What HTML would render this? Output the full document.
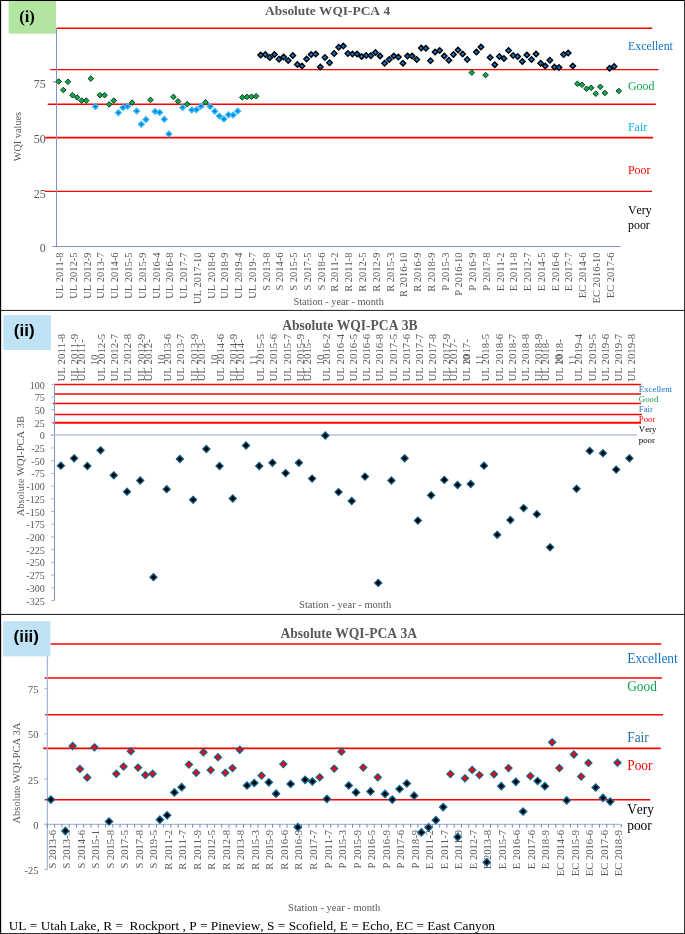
<!DOCTYPE html>
<html lang="en"><head><meta charset="utf-8"><title>WQI-PCA charts</title>
<style>html,body{margin:0;padding:0;background:#fff}svg{display:block;will-change:transform}text{font-kerning:none}</style></head>
<body>
<svg width="685" height="934" viewBox="0 0 685 934">
<style>.s{font-family:"Liberation Serif","Times New Roman",serif}.a{font-family:"Liberation Sans",Arial,sans-serif}</style>
<rect x="0" y="0" width="685" height="934" fill="#fff"/>
<line x1="56.40" y1="28.20" x2="652.30" y2="28.20" stroke="#ff0000" stroke-width="1.4"/>
<line x1="50.30" y1="69.60" x2="658.40" y2="69.60" stroke="#ff0000" stroke-width="1.4"/>
<line x1="47.70" y1="104.30" x2="655.80" y2="104.30" stroke="#ff0000" stroke-width="1.4"/>
<line x1="45.20" y1="137.60" x2="653.10" y2="137.60" stroke="#ff0000" stroke-width="1.9"/>
<line x1="44.70" y1="191.40" x2="652.00" y2="191.40" stroke="#ff0000" stroke-width="1.4"/>
<line x1="56.50" y1="28.00" x2="56.50" y2="246.50" stroke="#8093c0" stroke-width="1"/>
<line x1="52.50" y1="246.50" x2="620.50" y2="246.50" stroke="#8093c0" stroke-width="1"/>
<line x1="52.50" y1="82.00" x2="56.50" y2="82.00" stroke="#8093c0" stroke-width="1"/>
<text class="s" x="45.70" y="88.00" font-size="12" text-anchor="end" fill="#595959">75</text>
<text class="s" x="45.70" y="143.20" font-size="12" text-anchor="end" fill="#595959">50</text>
<text class="s" x="45.70" y="197.60" font-size="12" text-anchor="end" fill="#595959">25</text>
<text class="s" x="45.70" y="252.20" font-size="12" text-anchor="end" fill="#595959">0</text>
<text class="s" x="21.00" y="136.60" font-size="10.3" text-anchor="middle" fill="#595959" transform="rotate(-90 21.00 136.60)">WQI values</text>
<text class="s" x="327.60" y="14.60" font-size="13.4" font-weight="bold" text-anchor="middle" fill="#595959">Absolute WQI-PCA 4</text>
<text class="s" x="338.70" y="304.50" font-size="10.3" text-anchor="middle" fill="#595959">Station - year - month</text>
<path d="M58.70 78.70L61.50 81.50L58.70 84.30L55.90 81.50Z" fill="#0fa94d" stroke="#0d3a1e" stroke-width="1.0"/>
<path d="M63.29 87.20L66.09 90.00L63.29 92.80L60.49 90.00Z" fill="#0fa94d" stroke="#0d3a1e" stroke-width="1.0"/>
<path d="M67.88 79.00L70.68 81.80L67.88 84.60L65.08 81.80Z" fill="#0fa94d" stroke="#0d3a1e" stroke-width="1.0"/>
<path d="M72.47 92.40L75.27 95.20L72.47 98.00L69.67 95.20Z" fill="#0fa94d" stroke="#0d3a1e" stroke-width="1.0"/>
<path d="M77.06 94.60L79.86 97.40L77.06 100.20L74.26 97.40Z" fill="#0fa94d" stroke="#0d3a1e" stroke-width="1.0"/>
<path d="M81.65 97.80L84.45 100.60L81.65 103.40L78.85 100.60Z" fill="#0fa94d" stroke="#0d3a1e" stroke-width="1.0"/>
<path d="M86.24 97.80L89.04 100.60L86.24 103.40L83.44 100.60Z" fill="#0fa94d" stroke="#0d3a1e" stroke-width="1.0"/>
<path d="M90.83 75.80L93.63 78.60L90.83 81.40L88.03 78.60Z" fill="#0fa94d" stroke="#0d3a1e" stroke-width="1.0"/>
<path d="M95.42 103.80L98.12 106.50L95.42 109.20L92.72 106.50Z" fill="#0a78d2" stroke="#2cb6f5" stroke-width="1.5"/>
<path d="M100.01 92.40L102.81 95.20L100.01 98.00L97.21 95.20Z" fill="#0fa94d" stroke="#0d3a1e" stroke-width="1.0"/>
<path d="M104.60 92.40L107.40 95.20L104.60 98.00L101.80 95.20Z" fill="#0fa94d" stroke="#0d3a1e" stroke-width="1.0"/>
<path d="M109.19 101.60L111.99 104.40L109.19 107.20L106.39 104.40Z" fill="#0fa94d" stroke="#0d3a1e" stroke-width="1.0"/>
<path d="M113.78 97.80L116.58 100.60L113.78 103.40L110.98 100.60Z" fill="#0fa94d" stroke="#0d3a1e" stroke-width="1.0"/>
<path d="M118.37 110.00L121.07 112.70L118.37 115.40L115.67 112.70Z" fill="#0a78d2" stroke="#2cb6f5" stroke-width="1.5"/>
<path d="M122.96 104.70L125.66 107.40L122.96 110.10L120.26 107.40Z" fill="#0a78d2" stroke="#2cb6f5" stroke-width="1.5"/>
<path d="M127.55 103.50L130.25 106.20L127.55 108.90L124.85 106.20Z" fill="#0a78d2" stroke="#2cb6f5" stroke-width="1.5"/>
<path d="M132.14 99.80L134.94 102.60L132.14 105.40L129.34 102.60Z" fill="#0fa94d" stroke="#0d3a1e" stroke-width="1.0"/>
<path d="M136.73 108.20L139.43 110.90L136.73 113.60L134.03 110.90Z" fill="#0a78d2" stroke="#2cb6f5" stroke-width="1.5"/>
<path d="M141.32 121.60L144.02 124.30L141.32 127.00L138.62 124.30Z" fill="#0a78d2" stroke="#2cb6f5" stroke-width="1.5"/>
<path d="M145.91 116.90L148.61 119.60L145.91 122.30L143.21 119.60Z" fill="#0a78d2" stroke="#2cb6f5" stroke-width="1.5"/>
<path d="M150.50 97.10L153.30 99.90L150.50 102.70L147.70 99.90Z" fill="#0fa94d" stroke="#0d3a1e" stroke-width="1.0"/>
<path d="M155.09 108.70L157.79 111.40L155.09 114.10L152.39 111.40Z" fill="#0a78d2" stroke="#2cb6f5" stroke-width="1.5"/>
<path d="M159.68 109.70L162.38 112.40L159.68 115.10L156.98 112.40Z" fill="#0a78d2" stroke="#2cb6f5" stroke-width="1.5"/>
<path d="M164.27 116.60L166.97 119.30L164.27 122.00L161.57 119.30Z" fill="#0a78d2" stroke="#2cb6f5" stroke-width="1.5"/>
<path d="M168.86 131.30L171.56 134.00L168.86 136.70L166.16 134.00Z" fill="#0a78d2" stroke="#2cb6f5" stroke-width="1.5"/>
<path d="M173.45 94.10L176.25 96.90L173.45 99.70L170.65 96.90Z" fill="#0fa94d" stroke="#0d3a1e" stroke-width="1.0"/>
<path d="M178.04 98.60L180.84 101.40L178.04 104.20L175.24 101.40Z" fill="#0fa94d" stroke="#0d3a1e" stroke-width="1.0"/>
<path d="M182.63 104.70L185.33 107.40L182.63 110.10L179.93 107.40Z" fill="#0a78d2" stroke="#2cb6f5" stroke-width="1.5"/>
<path d="M187.22 101.30L190.02 104.10L187.22 106.90L184.42 104.10Z" fill="#0fa94d" stroke="#0d3a1e" stroke-width="1.0"/>
<path d="M191.81 107.20L194.51 109.90L191.81 112.60L189.11 109.90Z" fill="#0a78d2" stroke="#2cb6f5" stroke-width="1.5"/>
<path d="M196.40 107.00L199.10 109.70L196.40 112.40L193.70 109.70Z" fill="#0a78d2" stroke="#2cb6f5" stroke-width="1.5"/>
<path d="M201.00 103.50L203.70 106.20L201.00 108.90L198.30 106.20Z" fill="#0a78d2" stroke="#2cb6f5" stroke-width="1.5"/>
<path d="M205.59 99.60L208.39 102.40L205.59 105.20L202.79 102.40Z" fill="#0fa94d" stroke="#0d3a1e" stroke-width="1.0"/>
<path d="M210.18 103.80L212.88 106.50L210.18 109.20L207.48 106.50Z" fill="#0a78d2" stroke="#2cb6f5" stroke-width="1.5"/>
<path d="M214.77 108.50L217.47 111.20L214.77 113.90L212.07 111.20Z" fill="#0a78d2" stroke="#2cb6f5" stroke-width="1.5"/>
<path d="M219.36 113.20L222.06 115.90L219.36 118.60L216.66 115.90Z" fill="#0a78d2" stroke="#2cb6f5" stroke-width="1.5"/>
<path d="M223.95 116.30L226.65 119.00L223.95 121.70L221.25 119.00Z" fill="#0a78d2" stroke="#2cb6f5" stroke-width="1.5"/>
<path d="M228.54 112.00L231.24 114.70L228.54 117.40L225.84 114.70Z" fill="#0a78d2" stroke="#2cb6f5" stroke-width="1.5"/>
<path d="M233.13 112.20L235.83 114.90L233.13 117.60L230.43 114.90Z" fill="#0a78d2" stroke="#2cb6f5" stroke-width="1.5"/>
<path d="M237.72 108.40L240.42 111.10L237.72 113.80L235.02 111.10Z" fill="#0a78d2" stroke="#2cb6f5" stroke-width="1.5"/>
<path d="M242.31 94.60L245.11 97.40L242.31 100.20L239.51 97.40Z" fill="#0fa94d" stroke="#0d3a1e" stroke-width="1.0"/>
<path d="M246.90 94.10L249.70 96.90L246.90 99.70L244.10 96.90Z" fill="#0fa94d" stroke="#0d3a1e" stroke-width="1.0"/>
<path d="M251.49 93.90L254.29 96.70L251.49 99.50L248.69 96.70Z" fill="#0fa94d" stroke="#0d3a1e" stroke-width="1.0"/>
<path d="M256.08 93.40L258.88 96.20L256.08 99.00L253.28 96.20Z" fill="#0fa94d" stroke="#0d3a1e" stroke-width="1.0"/>
<path d="M260.67 52.35L263.42 55.10L260.67 57.85L257.92 55.10Z" fill="#0a76d0" stroke="#000" stroke-width="1.4"/>
<path d="M265.26 51.85L268.01 54.60L265.26 57.35L262.51 54.60Z" fill="#0a76d0" stroke="#000" stroke-width="1.4"/>
<path d="M269.85 54.85L272.60 57.60L269.85 60.35L267.10 57.60Z" fill="#0a76d0" stroke="#000" stroke-width="1.4"/>
<path d="M274.44 51.85L277.19 54.60L274.44 57.35L271.69 54.60Z" fill="#0a76d0" stroke="#000" stroke-width="1.4"/>
<path d="M279.03 56.55L281.78 59.30L279.03 62.05L276.28 59.30Z" fill="#0a76d0" stroke="#000" stroke-width="1.4"/>
<path d="M283.62 54.15L286.37 56.90L283.62 59.65L280.87 56.90Z" fill="#0a76d0" stroke="#000" stroke-width="1.4"/>
<path d="M288.21 57.85L290.96 60.60L288.21 63.35L285.46 60.60Z" fill="#0a76d0" stroke="#000" stroke-width="1.4"/>
<path d="M292.80 52.65L295.55 55.40L292.80 58.15L290.05 55.40Z" fill="#0a76d0" stroke="#000" stroke-width="1.4"/>
<path d="M297.39 61.75L300.14 64.50L297.39 67.25L294.64 64.50Z" fill="#0a76d0" stroke="#000" stroke-width="1.4"/>
<path d="M301.98 63.25L304.73 66.00L301.98 68.75L299.23 66.00Z" fill="#0a76d0" stroke="#000" stroke-width="1.4"/>
<path d="M306.57 56.35L309.32 59.10L306.57 61.85L303.82 59.10Z" fill="#0a76d0" stroke="#000" stroke-width="1.4"/>
<path d="M311.16 51.65L313.91 54.40L311.16 57.15L308.41 54.40Z" fill="#0a76d0" stroke="#000" stroke-width="1.4"/>
<path d="M315.75 51.35L318.50 54.10L315.75 56.85L313.00 54.10Z" fill="#0a76d0" stroke="#000" stroke-width="1.4"/>
<path d="M320.34 64.25L323.09 67.00L320.34 69.75L317.59 67.00Z" fill="#0a76d0" stroke="#000" stroke-width="1.4"/>
<path d="M324.93 54.85L327.68 57.60L324.93 60.35L322.18 57.60Z" fill="#0a76d0" stroke="#000" stroke-width="1.4"/>
<path d="M329.52 60.05L332.27 62.80L329.52 65.55L326.77 62.80Z" fill="#0a76d0" stroke="#000" stroke-width="1.4"/>
<path d="M334.11 50.65L336.86 53.40L334.11 56.15L331.36 53.40Z" fill="#0a76d0" stroke="#000" stroke-width="1.4"/>
<path d="M338.70 44.45L341.45 47.20L338.70 49.95L335.95 47.20Z" fill="#0a76d0" stroke="#000" stroke-width="1.4"/>
<path d="M343.29 43.15L346.04 45.90L343.29 48.65L340.54 45.90Z" fill="#0a76d0" stroke="#000" stroke-width="1.4"/>
<path d="M347.88 50.65L350.63 53.40L347.88 56.15L345.13 53.40Z" fill="#0a76d0" stroke="#000" stroke-width="1.4"/>
<path d="M352.47 51.35L355.22 54.10L352.47 56.85L349.72 54.10Z" fill="#0a76d0" stroke="#000" stroke-width="1.4"/>
<path d="M357.06 51.35L359.81 54.10L357.06 56.85L354.31 54.10Z" fill="#0a76d0" stroke="#000" stroke-width="1.4"/>
<path d="M361.65 53.65L364.40 56.40L361.65 59.15L358.90 56.40Z" fill="#0a76d0" stroke="#000" stroke-width="1.4"/>
<path d="M366.24 52.85L368.99 55.60L366.24 58.35L363.49 55.60Z" fill="#0a76d0" stroke="#000" stroke-width="1.4"/>
<path d="M370.83 53.05L373.58 55.80L370.83 58.55L368.08 55.80Z" fill="#0a76d0" stroke="#000" stroke-width="1.4"/>
<path d="M375.42 49.85L378.17 52.60L375.42 55.35L372.67 52.60Z" fill="#0a76d0" stroke="#000" stroke-width="1.4"/>
<path d="M380.01 53.15L382.76 55.90L380.01 58.65L377.26 55.90Z" fill="#0a76d0" stroke="#000" stroke-width="1.4"/>
<path d="M384.60 60.55L387.35 63.30L384.60 66.05L381.85 63.30Z" fill="#0a76d0" stroke="#000" stroke-width="1.4"/>
<path d="M389.19 56.85L391.94 59.60L389.19 62.35L386.44 59.60Z" fill="#0a76d0" stroke="#000" stroke-width="1.4"/>
<path d="M393.78 53.35L396.53 56.10L393.78 58.85L391.03 56.10Z" fill="#0a76d0" stroke="#000" stroke-width="1.4"/>
<path d="M398.37 54.35L401.12 57.10L398.37 59.85L395.62 57.10Z" fill="#0a76d0" stroke="#000" stroke-width="1.4"/>
<path d="M402.96 60.55L405.71 63.30L402.96 66.05L400.21 63.30Z" fill="#0a76d0" stroke="#000" stroke-width="1.4"/>
<path d="M407.55 53.35L410.30 56.10L407.55 58.85L404.80 56.10Z" fill="#0a76d0" stroke="#000" stroke-width="1.4"/>
<path d="M412.14 53.15L414.89 55.90L412.14 58.65L409.39 55.90Z" fill="#0a76d0" stroke="#000" stroke-width="1.4"/>
<path d="M416.73 56.85L419.48 59.60L416.73 62.35L413.98 59.60Z" fill="#0a76d0" stroke="#000" stroke-width="1.4"/>
<path d="M421.32 45.15L424.07 47.90L421.32 50.65L418.57 47.90Z" fill="#0a76d0" stroke="#000" stroke-width="1.4"/>
<path d="M425.91 45.45L428.66 48.20L425.91 50.95L423.16 48.20Z" fill="#0a76d0" stroke="#000" stroke-width="1.4"/>
<path d="M430.50 58.05L433.25 60.80L430.50 63.55L427.75 60.80Z" fill="#0a76d0" stroke="#000" stroke-width="1.4"/>
<path d="M435.09 49.35L437.84 52.10L435.09 54.85L432.34 52.10Z" fill="#0a76d0" stroke="#000" stroke-width="1.4"/>
<path d="M439.68 47.65L442.43 50.40L439.68 53.15L436.93 50.40Z" fill="#0a76d0" stroke="#000" stroke-width="1.4"/>
<path d="M444.27 53.15L447.02 55.90L444.27 58.65L441.52 55.90Z" fill="#0a76d0" stroke="#000" stroke-width="1.4"/>
<path d="M448.86 57.55L451.61 60.30L448.86 63.05L446.11 60.30Z" fill="#0a76d0" stroke="#000" stroke-width="1.4"/>
<path d="M453.45 51.85L456.20 54.60L453.45 57.35L450.70 54.60Z" fill="#0a76d0" stroke="#000" stroke-width="1.4"/>
<path d="M458.04 47.15L460.79 49.90L458.04 52.65L455.29 49.90Z" fill="#0a76d0" stroke="#000" stroke-width="1.4"/>
<path d="M462.63 51.15L465.38 53.90L462.63 56.65L459.88 53.90Z" fill="#0a76d0" stroke="#000" stroke-width="1.4"/>
<path d="M467.22 56.85L469.97 59.60L467.22 62.35L464.47 59.60Z" fill="#0a76d0" stroke="#000" stroke-width="1.4"/>
<path d="M471.81 69.80L474.61 72.60L471.81 75.40L469.01 72.60Z" fill="#0fa94d" stroke="#0d3a1e" stroke-width="1.0"/>
<path d="M476.40 49.15L479.15 51.90L476.40 54.65L473.65 51.90Z" fill="#0a76d0" stroke="#000" stroke-width="1.4"/>
<path d="M481.00 44.15L483.75 46.90L481.00 49.65L478.25 46.90Z" fill="#0a76d0" stroke="#000" stroke-width="1.4"/>
<path d="M485.59 72.30L488.39 75.10L485.59 77.90L482.79 75.10Z" fill="#0fa94d" stroke="#0d3a1e" stroke-width="1.0"/>
<path d="M490.18 54.85L492.93 57.60L490.18 60.35L487.43 57.60Z" fill="#0a76d0" stroke="#000" stroke-width="1.4"/>
<path d="M494.77 62.05L497.52 64.80L494.77 67.55L492.02 64.80Z" fill="#0a76d0" stroke="#000" stroke-width="1.4"/>
<path d="M499.36 53.85L502.11 56.60L499.36 59.35L496.61 56.60Z" fill="#0a76d0" stroke="#000" stroke-width="1.4"/>
<path d="M503.95 55.85L506.70 58.60L503.95 61.35L501.20 58.60Z" fill="#0a76d0" stroke="#000" stroke-width="1.4"/>
<path d="M508.54 47.85L511.29 50.60L508.54 53.35L505.79 50.60Z" fill="#0a76d0" stroke="#000" stroke-width="1.4"/>
<path d="M513.13 52.65L515.88 55.40L513.13 58.15L510.38 55.40Z" fill="#0a76d0" stroke="#000" stroke-width="1.4"/>
<path d="M517.72 53.85L520.47 56.60L517.72 59.35L514.97 56.60Z" fill="#0a76d0" stroke="#000" stroke-width="1.4"/>
<path d="M522.31 58.85L525.06 61.60L522.31 64.35L519.56 61.60Z" fill="#0a76d0" stroke="#000" stroke-width="1.4"/>
<path d="M526.90 52.15L529.65 54.90L526.90 57.65L524.15 54.90Z" fill="#0a76d0" stroke="#000" stroke-width="1.4"/>
<path d="M531.49 56.85L534.24 59.60L531.49 62.35L528.74 59.60Z" fill="#0a76d0" stroke="#000" stroke-width="1.4"/>
<path d="M536.08 51.35L538.83 54.10L536.08 56.85L533.33 54.10Z" fill="#0a76d0" stroke="#000" stroke-width="1.4"/>
<path d="M540.67 60.55L543.42 63.30L540.67 66.05L537.92 63.30Z" fill="#0a76d0" stroke="#000" stroke-width="1.4"/>
<path d="M545.26 63.25L548.01 66.00L545.26 68.75L542.51 66.00Z" fill="#0a76d0" stroke="#000" stroke-width="1.4"/>
<path d="M549.85 57.55L552.60 60.30L549.85 63.05L547.10 60.30Z" fill="#0a76d0" stroke="#000" stroke-width="1.4"/>
<path d="M554.44 64.25L557.19 67.00L554.44 69.75L551.69 67.00Z" fill="#0a76d0" stroke="#000" stroke-width="1.4"/>
<path d="M559.03 64.75L561.78 67.50L559.03 70.25L556.28 67.50Z" fill="#0a76d0" stroke="#000" stroke-width="1.4"/>
<path d="M563.62 51.85L566.37 54.60L563.62 57.35L560.87 54.60Z" fill="#0a76d0" stroke="#000" stroke-width="1.4"/>
<path d="M568.21 50.35L570.96 53.10L568.21 55.85L565.46 53.10Z" fill="#0a76d0" stroke="#000" stroke-width="1.4"/>
<path d="M572.80 63.25L575.55 66.00L572.80 68.75L570.05 66.00Z" fill="#0a76d0" stroke="#000" stroke-width="1.4"/>
<path d="M577.39 81.00L580.19 83.80L577.39 86.60L574.59 83.80Z" fill="#0fa94d" stroke="#0d3a1e" stroke-width="1.0"/>
<path d="M581.98 82.00L584.78 84.80L581.98 87.60L579.18 84.80Z" fill="#0fa94d" stroke="#0d3a1e" stroke-width="1.0"/>
<path d="M586.57 86.00L589.37 88.80L586.57 91.60L583.77 88.80Z" fill="#0fa94d" stroke="#0d3a1e" stroke-width="1.0"/>
<path d="M591.16 85.00L593.96 87.80L591.16 90.60L588.36 87.80Z" fill="#0fa94d" stroke="#0d3a1e" stroke-width="1.0"/>
<path d="M595.75 90.90L598.55 93.70L595.75 96.50L592.95 93.70Z" fill="#0fa94d" stroke="#0d3a1e" stroke-width="1.0"/>
<path d="M600.34 84.00L603.14 86.80L600.34 89.60L597.54 86.80Z" fill="#0fa94d" stroke="#0d3a1e" stroke-width="1.0"/>
<path d="M604.93 90.20L607.73 93.00L604.93 95.80L602.13 93.00Z" fill="#0fa94d" stroke="#0d3a1e" stroke-width="1.0"/>
<path d="M609.52 65.55L612.27 68.30L609.52 71.05L606.77 68.30Z" fill="#0a76d0" stroke="#000" stroke-width="1.4"/>
<path d="M614.11 63.75L616.86 66.50L614.11 69.25L611.36 66.50Z" fill="#0a76d0" stroke="#000" stroke-width="1.4"/>
<path d="M618.70 88.20L621.50 91.00L618.70 93.80L615.90 91.00Z" fill="#0fa94d" stroke="#0d3a1e" stroke-width="1.0"/>
<text class="s" x="63.20" y="252.40" font-size="10.5" text-anchor="end" fill="#595959" transform="rotate(-90 63.20 252.40)">UL 2011-8</text>
<text class="s" x="76.97" y="252.40" font-size="10.5" text-anchor="end" fill="#595959" transform="rotate(-90 76.97 252.40)">UL 2012-5</text>
<text class="s" x="90.73" y="252.40" font-size="10.5" text-anchor="end" fill="#595959" transform="rotate(-90 90.73 252.40)">UL 2012-9</text>
<text class="s" x="104.50" y="252.40" font-size="10.5" text-anchor="end" fill="#595959" transform="rotate(-90 104.50 252.40)">UL 2013-7</text>
<text class="s" x="118.26" y="252.40" font-size="10.5" text-anchor="end" fill="#595959" transform="rotate(-90 118.26 252.40)">UL 2014-6</text>
<text class="s" x="132.03" y="252.40" font-size="10.5" text-anchor="end" fill="#595959" transform="rotate(-90 132.03 252.40)">UL 2015-5</text>
<text class="s" x="145.79" y="252.40" font-size="10.5" text-anchor="end" fill="#595959" transform="rotate(-90 145.79 252.40)">UL 2015-9</text>
<text class="s" x="159.56" y="252.40" font-size="10.5" text-anchor="end" fill="#595959" transform="rotate(-90 159.56 252.40)">UL 2016-4</text>
<text class="s" x="173.32" y="252.40" font-size="10.5" text-anchor="end" fill="#595959" transform="rotate(-90 173.32 252.40)">UL 2016-8</text>
<text class="s" x="187.09" y="252.40" font-size="10.5" text-anchor="end" fill="#595959" transform="rotate(-90 187.09 252.40)">UL 2017-7</text>
<text class="s" x="200.85" y="252.40" font-size="10.5" text-anchor="end" fill="#595959" transform="rotate(-90 200.85 252.40)">UL 2017-10</text>
<text class="s" x="214.62" y="252.40" font-size="10.5" text-anchor="end" fill="#595959" transform="rotate(-90 214.62 252.40)">UL 2018-6</text>
<text class="s" x="228.38" y="252.40" font-size="10.5" text-anchor="end" fill="#595959" transform="rotate(-90 228.38 252.40)">UL 2018-9</text>
<text class="s" x="242.14" y="252.40" font-size="10.5" text-anchor="end" fill="#595959" transform="rotate(-90 242.14 252.40)">UL 2019-4</text>
<text class="s" x="255.91" y="252.40" font-size="10.5" text-anchor="end" fill="#595959" transform="rotate(-90 255.91 252.40)">UL 2019-7</text>
<text class="s" x="269.68" y="252.40" font-size="10.5" text-anchor="end" fill="#595959" transform="rotate(-90 269.68 252.40)">S 2013-8</text>
<text class="s" x="283.44" y="252.40" font-size="10.5" text-anchor="end" fill="#595959" transform="rotate(-90 283.44 252.40)">S 2014-6</text>
<text class="s" x="297.20" y="252.40" font-size="10.5" text-anchor="end" fill="#595959" transform="rotate(-90 297.20 252.40)">S 2015-5</text>
<text class="s" x="310.97" y="252.40" font-size="10.5" text-anchor="end" fill="#595959" transform="rotate(-90 310.97 252.40)">S 2017-5</text>
<text class="s" x="324.74" y="252.40" font-size="10.5" text-anchor="end" fill="#595959" transform="rotate(-90 324.74 252.40)">S 2018-6</text>
<text class="s" x="338.50" y="252.40" font-size="10.5" text-anchor="end" fill="#595959" transform="rotate(-90 338.50 252.40)">R 2011-2</text>
<text class="s" x="352.26" y="252.40" font-size="10.5" text-anchor="end" fill="#595959" transform="rotate(-90 352.26 252.40)">R 2011-8</text>
<text class="s" x="366.03" y="252.40" font-size="10.5" text-anchor="end" fill="#595959" transform="rotate(-90 366.03 252.40)">R 2012-5</text>
<text class="s" x="379.80" y="252.40" font-size="10.5" text-anchor="end" fill="#595959" transform="rotate(-90 379.80 252.40)">R 2012-9</text>
<text class="s" x="393.56" y="252.40" font-size="10.5" text-anchor="end" fill="#595959" transform="rotate(-90 393.56 252.40)">R 2015-3</text>
<text class="s" x="407.32" y="252.40" font-size="10.5" text-anchor="end" fill="#595959" transform="rotate(-90 407.32 252.40)">R 2016-10</text>
<text class="s" x="421.09" y="252.40" font-size="10.5" text-anchor="end" fill="#595959" transform="rotate(-90 421.09 252.40)">R 2016-9</text>
<text class="s" x="434.86" y="252.40" font-size="10.5" text-anchor="end" fill="#595959" transform="rotate(-90 434.86 252.40)">R 2018-9</text>
<text class="s" x="448.62" y="252.40" font-size="10.5" text-anchor="end" fill="#595959" transform="rotate(-90 448.62 252.40)">P 2015-3</text>
<text class="s" x="462.38" y="252.40" font-size="10.5" text-anchor="end" fill="#595959" transform="rotate(-90 462.38 252.40)">P 2016-10</text>
<text class="s" x="476.15" y="252.40" font-size="10.5" text-anchor="end" fill="#595959" transform="rotate(-90 476.15 252.40)">P 2016-9</text>
<text class="s" x="489.92" y="252.40" font-size="10.5" text-anchor="end" fill="#595959" transform="rotate(-90 489.92 252.40)">P 2017-8</text>
<text class="s" x="503.68" y="252.40" font-size="10.5" text-anchor="end" fill="#595959" transform="rotate(-90 503.68 252.40)">E 2011-2</text>
<text class="s" x="517.45" y="252.40" font-size="10.5" text-anchor="end" fill="#595959" transform="rotate(-90 517.45 252.40)">E 2011-8</text>
<text class="s" x="531.21" y="252.40" font-size="10.5" text-anchor="end" fill="#595959" transform="rotate(-90 531.21 252.40)">E 2012-7</text>
<text class="s" x="544.98" y="252.40" font-size="10.5" text-anchor="end" fill="#595959" transform="rotate(-90 544.98 252.40)">E 2014-5</text>
<text class="s" x="558.74" y="252.40" font-size="10.5" text-anchor="end" fill="#595959" transform="rotate(-90 558.74 252.40)">E 2016-6</text>
<text class="s" x="572.50" y="252.40" font-size="10.5" text-anchor="end" fill="#595959" transform="rotate(-90 572.50 252.40)">E 2017-7</text>
<text class="s" x="586.27" y="252.40" font-size="10.5" text-anchor="end" fill="#595959" transform="rotate(-90 586.27 252.40)">EC 2014-6</text>
<text class="s" x="600.04" y="252.40" font-size="10.5" text-anchor="end" fill="#595959" transform="rotate(-90 600.04 252.40)">EC 2016-10</text>
<text class="s" x="613.80" y="252.40" font-size="10.5" text-anchor="end" fill="#595959" transform="rotate(-90 613.80 252.40)">EC 2017-6</text>
<text class="s" x="628.00" y="50.10" font-size="11.9" fill="#1272c4">Excellent</text>
<text class="s" x="628.00" y="89.80" font-size="11.9" fill="#0aa84e">Good</text>
<text class="s" x="628.00" y="131.00" font-size="11.9" fill="#10adea">Fair</text>
<text class="s" x="628.00" y="174.00" font-size="11.9" fill="#ff0000">Poor</text>
<text class="s" x="628.00" y="213.90" font-size="11.9" fill="#000">Very</text>
<text class="s" x="628.00" y="228.50" font-size="11.9" fill="#000">poor</text>
<rect x="8.6" y="1" width="47.4" height="32.7" fill="#b2e5a0"/>
<text class="s" x="27.05" y="21.60" font-size="16.6" font-weight="bold" text-anchor="middle" fill="#000">(i)</text>
<line x1="54.40" y1="384.50" x2="641.00" y2="384.50" stroke="#ff0000" stroke-width="1.5"/>
<line x1="54.40" y1="393.90" x2="641.00" y2="393.90" stroke="#ff0000" stroke-width="1.5"/>
<line x1="52.80" y1="403.40" x2="641.00" y2="403.40" stroke="#ff0000" stroke-width="1.5"/>
<line x1="54.70" y1="414.50" x2="642.00" y2="414.50" stroke="#ff0000" stroke-width="1.5"/>
<line x1="52.80" y1="422.70" x2="641.00" y2="422.70" stroke="#ff0000" stroke-width="2.0"/>
<line x1="54.50" y1="384.40" x2="54.50" y2="600.50" stroke="#8093c0" stroke-width="1"/>
<line x1="51.20" y1="435.00" x2="636.80" y2="435.00" stroke="#b3c0d8" stroke-width="1.3"/>
<line x1="51.20" y1="384.40" x2="54.50" y2="384.40" stroke="#aab5d3" stroke-width="1"/>
<text class="s" x="44.70" y="388.50" font-size="10" text-anchor="end" fill="#595959">100</text>
<line x1="51.20" y1="397.11" x2="54.50" y2="397.11" stroke="#aab5d3" stroke-width="1"/>
<text class="s" x="44.70" y="401.21" font-size="10" text-anchor="end" fill="#595959">75</text>
<line x1="51.20" y1="409.82" x2="54.50" y2="409.82" stroke="#aab5d3" stroke-width="1"/>
<text class="s" x="44.70" y="413.92" font-size="10" text-anchor="end" fill="#595959">50</text>
<line x1="51.20" y1="422.54" x2="54.50" y2="422.54" stroke="#aab5d3" stroke-width="1"/>
<text class="s" x="44.70" y="426.64" font-size="10" text-anchor="end" fill="#595959">25</text>
<line x1="51.20" y1="435.25" x2="54.50" y2="435.25" stroke="#aab5d3" stroke-width="1"/>
<text class="s" x="44.70" y="439.35" font-size="10" text-anchor="end" fill="#595959">0</text>
<line x1="51.20" y1="447.96" x2="54.50" y2="447.96" stroke="#aab5d3" stroke-width="1"/>
<text class="s" x="44.70" y="452.06" font-size="10" text-anchor="end" fill="#595959">-25</text>
<line x1="51.20" y1="460.67" x2="54.50" y2="460.67" stroke="#aab5d3" stroke-width="1"/>
<text class="s" x="44.70" y="464.77" font-size="10" text-anchor="end" fill="#595959">-50</text>
<line x1="51.20" y1="473.38" x2="54.50" y2="473.38" stroke="#aab5d3" stroke-width="1"/>
<text class="s" x="44.70" y="477.48" font-size="10" text-anchor="end" fill="#595959">-75</text>
<line x1="51.20" y1="486.09" x2="54.50" y2="486.09" stroke="#aab5d3" stroke-width="1"/>
<text class="s" x="44.70" y="490.19" font-size="10" text-anchor="end" fill="#595959">-100</text>
<line x1="51.20" y1="498.81" x2="54.50" y2="498.81" stroke="#aab5d3" stroke-width="1"/>
<text class="s" x="44.70" y="502.91" font-size="10" text-anchor="end" fill="#595959">-125</text>
<line x1="51.20" y1="511.52" x2="54.50" y2="511.52" stroke="#aab5d3" stroke-width="1"/>
<text class="s" x="44.70" y="515.62" font-size="10" text-anchor="end" fill="#595959">-150</text>
<line x1="51.20" y1="524.23" x2="54.50" y2="524.23" stroke="#aab5d3" stroke-width="1"/>
<text class="s" x="44.70" y="528.33" font-size="10" text-anchor="end" fill="#595959">-175</text>
<line x1="51.20" y1="536.94" x2="54.50" y2="536.94" stroke="#aab5d3" stroke-width="1"/>
<text class="s" x="44.70" y="541.04" font-size="10" text-anchor="end" fill="#595959">-200</text>
<line x1="51.20" y1="549.65" x2="54.50" y2="549.65" stroke="#aab5d3" stroke-width="1"/>
<text class="s" x="44.70" y="553.75" font-size="10" text-anchor="end" fill="#595959">-225</text>
<line x1="51.20" y1="562.36" x2="54.50" y2="562.36" stroke="#aab5d3" stroke-width="1"/>
<text class="s" x="44.70" y="566.46" font-size="10" text-anchor="end" fill="#595959">-250</text>
<line x1="51.20" y1="575.08" x2="54.50" y2="575.08" stroke="#aab5d3" stroke-width="1"/>
<text class="s" x="44.70" y="579.18" font-size="10" text-anchor="end" fill="#595959">-275</text>
<line x1="51.20" y1="587.79" x2="54.50" y2="587.79" stroke="#aab5d3" stroke-width="1"/>
<text class="s" x="44.70" y="591.89" font-size="10" text-anchor="end" fill="#595959">-300</text>
<line x1="51.20" y1="600.50" x2="54.50" y2="600.50" stroke="#aab5d3" stroke-width="1"/>
<text class="s" x="44.70" y="604.60" font-size="10" text-anchor="end" fill="#595959">-325</text>
<text class="s" x="24.00" y="466.20" font-size="10.5" text-anchor="middle" fill="#595959" transform="rotate(-90 24.00 466.20)">Absolute WQI-PCA 3B</text>
<text class="s" x="349.90" y="329.90" font-size="13.55" font-weight="bold" text-anchor="middle" fill="#595959">Absolute WQI-PCA 3B</text>
<text class="s" x="345.20" y="607.50" font-size="10.5" text-anchor="middle" fill="#595959">Station - year - month</text>
<path d="M60.90 462.20L64.40 465.70L60.90 469.20L57.40 465.70Z" fill="#000" stroke="#135a80" stroke-width="1.3"/>
<path d="M74.12 454.80L77.62 458.30L74.12 461.80L70.62 458.30Z" fill="#000" stroke="#135a80" stroke-width="1.3"/>
<path d="M87.34 462.50L90.84 466.00L87.34 469.50L83.84 466.00Z" fill="#000" stroke="#135a80" stroke-width="1.3"/>
<path d="M100.56 446.80L104.06 450.30L100.56 453.80L97.06 450.30Z" fill="#000" stroke="#135a80" stroke-width="1.3"/>
<path d="M113.78 471.80L117.28 475.30L113.78 478.80L110.28 475.30Z" fill="#000" stroke="#135a80" stroke-width="1.3"/>
<path d="M127.00 488.20L130.50 491.70L127.00 495.20L123.50 491.70Z" fill="#000" stroke="#135a80" stroke-width="1.3"/>
<path d="M140.23 477.00L143.73 480.50L140.23 484.00L136.73 480.50Z" fill="#000" stroke="#135a80" stroke-width="1.3"/>
<path d="M153.45 573.70L156.95 577.20L153.45 580.70L149.95 577.20Z" fill="#000" stroke="#135a80" stroke-width="1.3"/>
<path d="M166.67 485.70L170.17 489.20L166.67 492.70L163.17 489.20Z" fill="#000" stroke="#135a80" stroke-width="1.3"/>
<path d="M179.89 455.50L183.39 459.00L179.89 462.50L176.39 459.00Z" fill="#000" stroke="#135a80" stroke-width="1.3"/>
<path d="M193.11 496.30L196.61 499.80L193.11 503.30L189.61 499.80Z" fill="#000" stroke="#135a80" stroke-width="1.3"/>
<path d="M206.33 445.50L209.83 449.00L206.33 452.50L202.83 449.00Z" fill="#000" stroke="#135a80" stroke-width="1.3"/>
<path d="M219.55 462.50L223.05 466.00L219.55 469.50L216.05 466.00Z" fill="#000" stroke="#135a80" stroke-width="1.3"/>
<path d="M232.77 495.00L236.27 498.50L232.77 502.00L229.27 498.50Z" fill="#000" stroke="#135a80" stroke-width="1.3"/>
<path d="M245.99 442.00L249.49 445.50L245.99 449.00L242.49 445.50Z" fill="#000" stroke="#135a80" stroke-width="1.3"/>
<path d="M259.21 462.50L262.71 466.00L259.21 469.50L255.71 466.00Z" fill="#000" stroke="#135a80" stroke-width="1.3"/>
<path d="M272.43 459.30L275.93 462.80L272.43 466.30L268.93 462.80Z" fill="#000" stroke="#135a80" stroke-width="1.3"/>
<path d="M285.66 469.60L289.16 473.10L285.66 476.60L282.16 473.10Z" fill="#000" stroke="#135a80" stroke-width="1.3"/>
<path d="M298.88 459.30L302.38 462.80L298.88 466.30L295.38 462.80Z" fill="#000" stroke="#135a80" stroke-width="1.3"/>
<path d="M312.10 475.10L315.60 478.60L312.10 482.10L308.60 478.60Z" fill="#000" stroke="#135a80" stroke-width="1.3"/>
<path d="M325.32 432.00L328.82 435.50L325.32 439.00L321.82 435.50Z" fill="#000" stroke="#135a80" stroke-width="1.3"/>
<path d="M338.54 488.60L342.04 492.10L338.54 495.60L335.04 492.10Z" fill="#000" stroke="#135a80" stroke-width="1.3"/>
<path d="M351.76 497.50L355.26 501.00L351.76 504.50L348.26 501.00Z" fill="#000" stroke="#135a80" stroke-width="1.3"/>
<path d="M364.98 473.10L368.48 476.60L364.98 480.10L361.48 476.60Z" fill="#000" stroke="#135a80" stroke-width="1.3"/>
<path d="M378.20 579.40L381.70 582.90L378.20 586.40L374.70 582.90Z" fill="#000" stroke="#135a80" stroke-width="1.3"/>
<path d="M391.42 477.00L394.92 480.50L391.42 484.00L387.92 480.50Z" fill="#000" stroke="#135a80" stroke-width="1.3"/>
<path d="M404.64 454.80L408.14 458.30L404.64 461.80L401.14 458.30Z" fill="#000" stroke="#135a80" stroke-width="1.3"/>
<path d="M417.87 517.10L421.37 520.60L417.87 524.10L414.37 520.60Z" fill="#000" stroke="#135a80" stroke-width="1.3"/>
<path d="M431.09 491.80L434.59 495.30L431.09 498.80L427.59 495.30Z" fill="#000" stroke="#135a80" stroke-width="1.3"/>
<path d="M444.31 476.40L447.81 479.90L444.31 483.40L440.81 479.90Z" fill="#000" stroke="#135a80" stroke-width="1.3"/>
<path d="M457.53 481.50L461.03 485.00L457.53 488.50L454.03 485.00Z" fill="#000" stroke="#135a80" stroke-width="1.3"/>
<path d="M470.75 480.50L474.25 484.00L470.75 487.50L467.25 484.00Z" fill="#000" stroke="#135a80" stroke-width="1.3"/>
<path d="M483.97 462.20L487.47 465.70L483.97 469.20L480.47 465.70Z" fill="#000" stroke="#135a80" stroke-width="1.3"/>
<path d="M497.19 531.30L500.69 534.80L497.19 538.30L493.69 534.80Z" fill="#000" stroke="#135a80" stroke-width="1.3"/>
<path d="M510.41 516.50L513.91 520.00L510.41 523.50L506.91 520.00Z" fill="#000" stroke="#135a80" stroke-width="1.3"/>
<path d="M523.63 504.60L527.13 508.10L523.63 511.60L520.13 508.10Z" fill="#000" stroke="#135a80" stroke-width="1.3"/>
<path d="M536.85 510.70L540.35 514.20L536.85 517.70L533.35 514.20Z" fill="#000" stroke="#135a80" stroke-width="1.3"/>
<path d="M550.07 543.80L553.57 547.30L550.07 550.80L546.57 547.30Z" fill="#000" stroke="#135a80" stroke-width="1.3"/>
<path d="M576.52 485.30L580.02 488.80L576.52 492.30L573.02 488.80Z" fill="#000" stroke="#135a80" stroke-width="1.3"/>
<path d="M589.74 447.40L593.24 450.90L589.74 454.40L586.24 450.90Z" fill="#000" stroke="#135a80" stroke-width="1.3"/>
<path d="M602.96 449.70L606.46 453.20L602.96 456.70L599.46 453.20Z" fill="#000" stroke="#135a80" stroke-width="1.3"/>
<path d="M616.18 466.10L619.68 469.60L616.18 473.10L612.68 469.60Z" fill="#000" stroke="#135a80" stroke-width="1.3"/>
<path d="M629.40 454.80L632.90 458.30L629.40 461.80L625.90 458.30Z" fill="#000" stroke="#135a80" stroke-width="1.3"/>
<text class="s" x="65.10" y="381.50" font-size="10.8" fill="#595959" transform="rotate(-90 65.10 381.50)">UL 2011-8</text>
<text class="s" x="78.36" y="381.50" font-size="10.8" fill="#595959" transform="rotate(-90 78.36 381.50)">UL 2011-9</text>
<text class="s" x="85.32" y="381.50" font-size="10.8" fill="#595959" transform="rotate(-90 85.32 381.50)">UL 2011-</text>
<text class="s" x="98.22" y="360.00" font-size="10.8" text-anchor="middle" fill="#595959" transform="rotate(-90 98.22 360.00)">10</text>
<text class="s" x="104.88" y="381.50" font-size="10.8" fill="#595959" transform="rotate(-90 104.88 381.50)">UL 2012-5</text>
<text class="s" x="118.14" y="381.50" font-size="10.8" fill="#595959" transform="rotate(-90 118.14 381.50)">UL 2012-7</text>
<text class="s" x="131.40" y="381.50" font-size="10.8" fill="#595959" transform="rotate(-90 131.40 381.50)">UL 2012-8</text>
<text class="s" x="144.66" y="381.50" font-size="10.8" fill="#595959" transform="rotate(-90 144.66 381.50)">UL 2012-9</text>
<text class="s" x="151.62" y="381.50" font-size="10.8" fill="#595959" transform="rotate(-90 151.62 381.50)">UL 2012-</text>
<text class="s" x="164.52" y="360.00" font-size="10.8" text-anchor="middle" fill="#595959" transform="rotate(-90 164.52 360.00)">10</text>
<text class="s" x="171.18" y="381.50" font-size="10.8" fill="#595959" transform="rotate(-90 171.18 381.50)">UL 2013-6</text>
<text class="s" x="184.44" y="381.50" font-size="10.8" fill="#595959" transform="rotate(-90 184.44 381.50)">UL 2013-7</text>
<text class="s" x="197.70" y="381.50" font-size="10.8" fill="#595959" transform="rotate(-90 197.70 381.50)">UL 2013-9</text>
<text class="s" x="204.66" y="381.50" font-size="10.8" fill="#595959" transform="rotate(-90 204.66 381.50)">UL 2013-</text>
<text class="s" x="217.56" y="360.00" font-size="10.8" text-anchor="middle" fill="#595959" transform="rotate(-90 217.56 360.00)">10</text>
<text class="s" x="224.22" y="381.50" font-size="10.8" fill="#595959" transform="rotate(-90 224.22 381.50)">UL 2014-6</text>
<text class="s" x="237.48" y="381.50" font-size="10.8" fill="#595959" transform="rotate(-90 237.48 381.50)">UL 2014-9</text>
<text class="s" x="244.44" y="381.50" font-size="10.8" fill="#595959" transform="rotate(-90 244.44 381.50)">UL 2014-</text>
<text class="s" x="257.34" y="360.00" font-size="10.8" text-anchor="middle" fill="#595959" transform="rotate(-90 257.34 360.00)">11</text>
<text class="s" x="264.00" y="381.50" font-size="10.8" fill="#595959" transform="rotate(-90 264.00 381.50)">UL 2015-5</text>
<text class="s" x="277.26" y="381.50" font-size="10.8" fill="#595959" transform="rotate(-90 277.26 381.50)">UL 2015-6</text>
<text class="s" x="290.52" y="381.50" font-size="10.8" fill="#595959" transform="rotate(-90 290.52 381.50)">UL 2015-7</text>
<text class="s" x="303.78" y="381.50" font-size="10.8" fill="#595959" transform="rotate(-90 303.78 381.50)">UL 2015-9</text>
<text class="s" x="310.74" y="381.50" font-size="10.8" fill="#595959" transform="rotate(-90 310.74 381.50)">UL 2015-</text>
<text class="s" x="323.64" y="360.00" font-size="10.8" text-anchor="middle" fill="#595959" transform="rotate(-90 323.64 360.00)">10</text>
<text class="s" x="330.30" y="381.50" font-size="10.8" fill="#595959" transform="rotate(-90 330.30 381.50)">UL 2016-2</text>
<text class="s" x="343.56" y="381.50" font-size="10.8" fill="#595959" transform="rotate(-90 343.56 381.50)">UL 2016-4</text>
<text class="s" x="356.82" y="381.50" font-size="10.8" fill="#595959" transform="rotate(-90 356.82 381.50)">UL 2016-5</text>
<text class="s" x="370.08" y="381.50" font-size="10.8" fill="#595959" transform="rotate(-90 370.08 381.50)">UL 2016-6</text>
<text class="s" x="383.34" y="381.50" font-size="10.8" fill="#595959" transform="rotate(-90 383.34 381.50)">UL 2016-8</text>
<text class="s" x="396.60" y="381.50" font-size="10.8" fill="#595959" transform="rotate(-90 396.60 381.50)">UL 2017-5</text>
<text class="s" x="409.86" y="381.50" font-size="10.8" fill="#595959" transform="rotate(-90 409.86 381.50)">UL 2017-6</text>
<text class="s" x="423.12" y="381.50" font-size="10.8" fill="#595959" transform="rotate(-90 423.12 381.50)">UL 2017-7</text>
<text class="s" x="436.38" y="381.50" font-size="10.8" fill="#595959" transform="rotate(-90 436.38 381.50)">UL 2017-8</text>
<text class="s" x="449.64" y="381.50" font-size="10.8" fill="#595959" transform="rotate(-90 449.64 381.50)">UL 2017-9</text>
<text class="s" x="456.60" y="381.50" font-size="10.8" fill="#595959" transform="rotate(-90 456.60 381.50)">UL 2017-</text>
<text class="s" x="469.50" y="360.00" font-size="10.8" text-anchor="middle" fill="#595959" transform="rotate(-90 469.50 360.00)">10</text>
<text class="s" x="469.86" y="381.50" font-size="10.8" fill="#595959" transform="rotate(-90 469.86 381.50)">UL 2017-</text>
<text class="s" x="482.76" y="360.00" font-size="10.8" text-anchor="middle" fill="#595959" transform="rotate(-90 482.76 360.00)">11</text>
<text class="s" x="489.42" y="381.50" font-size="10.8" fill="#595959" transform="rotate(-90 489.42 381.50)">UL 2018-5</text>
<text class="s" x="502.68" y="381.50" font-size="10.8" fill="#595959" transform="rotate(-90 502.68 381.50)">UL 2018-6</text>
<text class="s" x="515.94" y="381.50" font-size="10.8" fill="#595959" transform="rotate(-90 515.94 381.50)">UL 2018-7</text>
<text class="s" x="529.20" y="381.50" font-size="10.8" fill="#595959" transform="rotate(-90 529.20 381.50)">UL 2018-8</text>
<text class="s" x="542.46" y="381.50" font-size="10.8" fill="#595959" transform="rotate(-90 542.46 381.50)">UL 2018-9</text>
<text class="s" x="549.42" y="381.50" font-size="10.8" fill="#595959" transform="rotate(-90 549.42 381.50)">UL 2018-</text>
<text class="s" x="562.32" y="360.00" font-size="10.8" text-anchor="middle" fill="#595959" transform="rotate(-90 562.32 360.00)">10</text>
<text class="s" x="562.68" y="381.50" font-size="10.8" fill="#595959" transform="rotate(-90 562.68 381.50)">UL 2018-</text>
<text class="s" x="575.58" y="360.00" font-size="10.8" text-anchor="middle" fill="#595959" transform="rotate(-90 575.58 360.00)">11</text>
<text class="s" x="582.24" y="381.50" font-size="10.8" fill="#595959" transform="rotate(-90 582.24 381.50)">UL 2019-4</text>
<text class="s" x="595.50" y="381.50" font-size="10.8" fill="#595959" transform="rotate(-90 595.50 381.50)">UL 2019-5</text>
<text class="s" x="608.76" y="381.50" font-size="10.8" fill="#595959" transform="rotate(-90 608.76 381.50)">UL 2019-6</text>
<text class="s" x="622.02" y="381.50" font-size="10.8" fill="#595959" transform="rotate(-90 622.02 381.50)">UL 2019-7</text>
<text class="s" x="635.28" y="381.50" font-size="10.8" fill="#595959" transform="rotate(-90 635.28 381.50)">UL 2019-8</text>
<text class="s" x="638.80" y="392.10" font-size="8.8" fill="#1f74c4">Excellent</text>
<text class="s" x="638.80" y="402.30" font-size="8.8" fill="#0aa84e">Good</text>
<text class="s" x="638.80" y="412.20" font-size="8.8" fill="#1f74c4">Fair</text>
<text class="s" x="638.80" y="422.30" font-size="8.8" fill="#ff0000">Poor</text>
<text class="s" x="638.80" y="432.40" font-size="8.8" fill="#000">Very</text>
<text class="s" x="638.80" y="442.70" font-size="8.8" fill="#000">poor</text>
<rect x="3.3" y="315.1" width="47.7" height="34.8" fill="#bfe3f5"/>
<text class="a" x="24.20" y="335.70" font-size="17" font-weight="bold" text-anchor="middle" fill="#000">(ii)</text>
<line x1="50.50" y1="644.00" x2="661.40" y2="644.00" stroke="#ff0000" stroke-width="1.5"/>
<line x1="44.70" y1="678.00" x2="661.90" y2="678.00" stroke="#ff0000" stroke-width="1.5"/>
<line x1="45.20" y1="714.80" x2="663.10" y2="714.80" stroke="#ff0000" stroke-width="1.5"/>
<line x1="43.20" y1="748.30" x2="660.70" y2="748.30" stroke="#ff0000" stroke-width="1.8"/>
<line x1="44.70" y1="799.80" x2="650.20" y2="799.80" stroke="#ff0000" stroke-width="1.6"/>
<line x1="47.40" y1="643.50" x2="47.40" y2="869.40" stroke="#a9b6d3" stroke-width="1.3"/>
<line x1="44.40" y1="824.30" x2="621.40" y2="824.30" stroke="#98a8cf" stroke-width="1"/>
<line x1="44.40" y1="688.70" x2="47.40" y2="688.70" stroke="#a9b6d3" stroke-width="1"/>
<text class="s" x="38.40" y="693.10" font-size="10.4" text-anchor="end" fill="#595959">75</text>
<line x1="44.40" y1="733.90" x2="47.40" y2="733.90" stroke="#a9b6d3" stroke-width="1"/>
<text class="s" x="38.40" y="738.30" font-size="10.4" text-anchor="end" fill="#595959">50</text>
<line x1="44.40" y1="779.10" x2="47.40" y2="779.10" stroke="#a9b6d3" stroke-width="1"/>
<text class="s" x="38.40" y="783.50" font-size="10.4" text-anchor="end" fill="#595959">25</text>
<line x1="44.40" y1="824.30" x2="47.40" y2="824.30" stroke="#a9b6d3" stroke-width="1"/>
<text class="s" x="38.40" y="828.70" font-size="10.4" text-anchor="end" fill="#595959">0</text>
<line x1="44.40" y1="869.50" x2="47.40" y2="869.50" stroke="#a9b6d3" stroke-width="1"/>
<text class="s" x="38.40" y="873.90" font-size="10.4" text-anchor="end" fill="#595959">-25</text>
<line x1="47.40" y1="824.30" x2="47.40" y2="827.60" stroke="#5f77b6" stroke-width="0.9"/>
<line x1="54.66" y1="824.30" x2="54.66" y2="827.60" stroke="#5f77b6" stroke-width="0.9"/>
<line x1="61.93" y1="824.30" x2="61.93" y2="827.60" stroke="#5f77b6" stroke-width="0.9"/>
<line x1="69.19" y1="824.30" x2="69.19" y2="827.60" stroke="#5f77b6" stroke-width="0.9"/>
<line x1="76.46" y1="824.30" x2="76.46" y2="827.60" stroke="#5f77b6" stroke-width="0.9"/>
<line x1="83.72" y1="824.30" x2="83.72" y2="827.60" stroke="#5f77b6" stroke-width="0.9"/>
<line x1="90.98" y1="824.30" x2="90.98" y2="827.60" stroke="#5f77b6" stroke-width="0.9"/>
<line x1="98.25" y1="824.30" x2="98.25" y2="827.60" stroke="#5f77b6" stroke-width="0.9"/>
<line x1="105.51" y1="824.30" x2="105.51" y2="827.60" stroke="#5f77b6" stroke-width="0.9"/>
<line x1="112.78" y1="824.30" x2="112.78" y2="827.60" stroke="#5f77b6" stroke-width="0.9"/>
<line x1="120.04" y1="824.30" x2="120.04" y2="827.60" stroke="#5f77b6" stroke-width="0.9"/>
<line x1="127.30" y1="824.30" x2="127.30" y2="827.60" stroke="#5f77b6" stroke-width="0.9"/>
<line x1="134.57" y1="824.30" x2="134.57" y2="827.60" stroke="#5f77b6" stroke-width="0.9"/>
<line x1="141.83" y1="824.30" x2="141.83" y2="827.60" stroke="#5f77b6" stroke-width="0.9"/>
<line x1="149.10" y1="824.30" x2="149.10" y2="827.60" stroke="#5f77b6" stroke-width="0.9"/>
<line x1="156.36" y1="824.30" x2="156.36" y2="827.60" stroke="#5f77b6" stroke-width="0.9"/>
<line x1="163.62" y1="824.30" x2="163.62" y2="827.60" stroke="#5f77b6" stroke-width="0.9"/>
<line x1="170.89" y1="824.30" x2="170.89" y2="827.60" stroke="#5f77b6" stroke-width="0.9"/>
<line x1="178.15" y1="824.30" x2="178.15" y2="827.60" stroke="#5f77b6" stroke-width="0.9"/>
<line x1="185.42" y1="824.30" x2="185.42" y2="827.60" stroke="#5f77b6" stroke-width="0.9"/>
<line x1="192.68" y1="824.30" x2="192.68" y2="827.60" stroke="#5f77b6" stroke-width="0.9"/>
<line x1="199.94" y1="824.30" x2="199.94" y2="827.60" stroke="#5f77b6" stroke-width="0.9"/>
<line x1="207.21" y1="824.30" x2="207.21" y2="827.60" stroke="#5f77b6" stroke-width="0.9"/>
<line x1="214.47" y1="824.30" x2="214.47" y2="827.60" stroke="#5f77b6" stroke-width="0.9"/>
<line x1="221.74" y1="824.30" x2="221.74" y2="827.60" stroke="#5f77b6" stroke-width="0.9"/>
<line x1="229.00" y1="824.30" x2="229.00" y2="827.60" stroke="#5f77b6" stroke-width="0.9"/>
<line x1="236.26" y1="824.30" x2="236.26" y2="827.60" stroke="#5f77b6" stroke-width="0.9"/>
<line x1="243.53" y1="824.30" x2="243.53" y2="827.60" stroke="#5f77b6" stroke-width="0.9"/>
<line x1="250.79" y1="824.30" x2="250.79" y2="827.60" stroke="#5f77b6" stroke-width="0.9"/>
<line x1="258.06" y1="824.30" x2="258.06" y2="827.60" stroke="#5f77b6" stroke-width="0.9"/>
<line x1="265.32" y1="824.30" x2="265.32" y2="827.60" stroke="#5f77b6" stroke-width="0.9"/>
<line x1="272.58" y1="824.30" x2="272.58" y2="827.60" stroke="#5f77b6" stroke-width="0.9"/>
<line x1="279.85" y1="824.30" x2="279.85" y2="827.60" stroke="#5f77b6" stroke-width="0.9"/>
<line x1="287.11" y1="824.30" x2="287.11" y2="827.60" stroke="#5f77b6" stroke-width="0.9"/>
<line x1="294.38" y1="824.30" x2="294.38" y2="827.60" stroke="#5f77b6" stroke-width="0.9"/>
<line x1="301.64" y1="824.30" x2="301.64" y2="827.60" stroke="#5f77b6" stroke-width="0.9"/>
<line x1="308.90" y1="824.30" x2="308.90" y2="827.60" stroke="#5f77b6" stroke-width="0.9"/>
<line x1="316.17" y1="824.30" x2="316.17" y2="827.60" stroke="#5f77b6" stroke-width="0.9"/>
<line x1="323.43" y1="824.30" x2="323.43" y2="827.60" stroke="#5f77b6" stroke-width="0.9"/>
<line x1="330.70" y1="824.30" x2="330.70" y2="827.60" stroke="#5f77b6" stroke-width="0.9"/>
<line x1="337.96" y1="824.30" x2="337.96" y2="827.60" stroke="#5f77b6" stroke-width="0.9"/>
<line x1="345.22" y1="824.30" x2="345.22" y2="827.60" stroke="#5f77b6" stroke-width="0.9"/>
<line x1="352.49" y1="824.30" x2="352.49" y2="827.60" stroke="#5f77b6" stroke-width="0.9"/>
<line x1="359.75" y1="824.30" x2="359.75" y2="827.60" stroke="#5f77b6" stroke-width="0.9"/>
<line x1="367.02" y1="824.30" x2="367.02" y2="827.60" stroke="#5f77b6" stroke-width="0.9"/>
<line x1="374.28" y1="824.30" x2="374.28" y2="827.60" stroke="#5f77b6" stroke-width="0.9"/>
<line x1="381.54" y1="824.30" x2="381.54" y2="827.60" stroke="#5f77b6" stroke-width="0.9"/>
<line x1="388.81" y1="824.30" x2="388.81" y2="827.60" stroke="#5f77b6" stroke-width="0.9"/>
<line x1="396.07" y1="824.30" x2="396.07" y2="827.60" stroke="#5f77b6" stroke-width="0.9"/>
<line x1="403.34" y1="824.30" x2="403.34" y2="827.60" stroke="#5f77b6" stroke-width="0.9"/>
<line x1="410.60" y1="824.30" x2="410.60" y2="827.60" stroke="#5f77b6" stroke-width="0.9"/>
<line x1="417.86" y1="824.30" x2="417.86" y2="827.60" stroke="#5f77b6" stroke-width="0.9"/>
<line x1="425.13" y1="824.30" x2="425.13" y2="827.60" stroke="#5f77b6" stroke-width="0.9"/>
<line x1="432.39" y1="824.30" x2="432.39" y2="827.60" stroke="#5f77b6" stroke-width="0.9"/>
<line x1="439.66" y1="824.30" x2="439.66" y2="827.60" stroke="#5f77b6" stroke-width="0.9"/>
<line x1="446.92" y1="824.30" x2="446.92" y2="827.60" stroke="#5f77b6" stroke-width="0.9"/>
<line x1="454.18" y1="824.30" x2="454.18" y2="827.60" stroke="#5f77b6" stroke-width="0.9"/>
<line x1="461.45" y1="824.30" x2="461.45" y2="827.60" stroke="#5f77b6" stroke-width="0.9"/>
<line x1="468.71" y1="824.30" x2="468.71" y2="827.60" stroke="#5f77b6" stroke-width="0.9"/>
<line x1="475.98" y1="824.30" x2="475.98" y2="827.60" stroke="#5f77b6" stroke-width="0.9"/>
<line x1="483.24" y1="824.30" x2="483.24" y2="827.60" stroke="#5f77b6" stroke-width="0.9"/>
<line x1="490.50" y1="824.30" x2="490.50" y2="827.60" stroke="#5f77b6" stroke-width="0.9"/>
<line x1="497.77" y1="824.30" x2="497.77" y2="827.60" stroke="#5f77b6" stroke-width="0.9"/>
<line x1="505.03" y1="824.30" x2="505.03" y2="827.60" stroke="#5f77b6" stroke-width="0.9"/>
<line x1="512.30" y1="824.30" x2="512.30" y2="827.60" stroke="#5f77b6" stroke-width="0.9"/>
<line x1="519.56" y1="824.30" x2="519.56" y2="827.60" stroke="#5f77b6" stroke-width="0.9"/>
<line x1="526.82" y1="824.30" x2="526.82" y2="827.60" stroke="#5f77b6" stroke-width="0.9"/>
<line x1="534.09" y1="824.30" x2="534.09" y2="827.60" stroke="#5f77b6" stroke-width="0.9"/>
<line x1="541.35" y1="824.30" x2="541.35" y2="827.60" stroke="#5f77b6" stroke-width="0.9"/>
<line x1="548.62" y1="824.30" x2="548.62" y2="827.60" stroke="#5f77b6" stroke-width="0.9"/>
<line x1="555.88" y1="824.30" x2="555.88" y2="827.60" stroke="#5f77b6" stroke-width="0.9"/>
<line x1="563.14" y1="824.30" x2="563.14" y2="827.60" stroke="#5f77b6" stroke-width="0.9"/>
<line x1="570.41" y1="824.30" x2="570.41" y2="827.60" stroke="#5f77b6" stroke-width="0.9"/>
<line x1="577.67" y1="824.30" x2="577.67" y2="827.60" stroke="#5f77b6" stroke-width="0.9"/>
<line x1="584.94" y1="824.30" x2="584.94" y2="827.60" stroke="#5f77b6" stroke-width="0.9"/>
<line x1="592.20" y1="824.30" x2="592.20" y2="827.60" stroke="#5f77b6" stroke-width="0.9"/>
<line x1="599.46" y1="824.30" x2="599.46" y2="827.60" stroke="#5f77b6" stroke-width="0.9"/>
<line x1="606.73" y1="824.30" x2="606.73" y2="827.60" stroke="#5f77b6" stroke-width="0.9"/>
<line x1="613.99" y1="824.30" x2="613.99" y2="827.60" stroke="#5f77b6" stroke-width="0.9"/>
<line x1="621.26" y1="824.30" x2="621.26" y2="827.60" stroke="#5f77b6" stroke-width="0.9"/>
<text class="s" x="19.60" y="773.00" font-size="10.5" text-anchor="middle" fill="#595959" transform="rotate(-90 19.60 773.00)">Absolute WQI-PCA 3A</text>
<text class="s" x="348.80" y="637.70" font-size="13.6" font-weight="bold" text-anchor="middle" fill="#595959">Absolute WQI-PCA 3A</text>
<text class="s" x="334.20" y="911.00" font-size="10.5" text-anchor="middle" fill="#595959">Station - year - month</text>
<text class="s" x="55.50" y="830.00" font-size="10.6" text-anchor="end" fill="#595959" transform="rotate(-90 55.50 830.00)">S 2013-6</text>
<text class="s" x="70.03" y="830.00" font-size="10.6" text-anchor="end" fill="#595959" transform="rotate(-90 70.03 830.00)">S 2013-9</text>
<text class="s" x="84.56" y="830.00" font-size="10.6" text-anchor="end" fill="#595959" transform="rotate(-90 84.56 830.00)">S 2014-6</text>
<text class="s" x="99.08" y="830.00" font-size="10.6" text-anchor="end" fill="#595959" transform="rotate(-90 99.08 830.00)">S 2015-1</text>
<text class="s" x="113.61" y="830.00" font-size="10.6" text-anchor="end" fill="#595959" transform="rotate(-90 113.61 830.00)">S 2015-8</text>
<text class="s" x="128.14" y="830.00" font-size="10.6" text-anchor="end" fill="#595959" transform="rotate(-90 128.14 830.00)">S 2017-5</text>
<text class="s" x="142.67" y="830.00" font-size="10.6" text-anchor="end" fill="#595959" transform="rotate(-90 142.67 830.00)">S 2017-8</text>
<text class="s" x="157.20" y="830.00" font-size="10.6" text-anchor="end" fill="#595959" transform="rotate(-90 157.20 830.00)">S 2019-5</text>
<text class="s" x="171.72" y="830.00" font-size="10.6" text-anchor="end" fill="#595959" transform="rotate(-90 171.72 830.00)">R 2011-2</text>
<text class="s" x="186.25" y="830.00" font-size="10.6" text-anchor="end" fill="#595959" transform="rotate(-90 186.25 830.00)">R 2011-7</text>
<text class="s" x="200.78" y="830.00" font-size="10.6" text-anchor="end" fill="#595959" transform="rotate(-90 200.78 830.00)">R 2011-9</text>
<text class="s" x="215.31" y="830.00" font-size="10.6" text-anchor="end" fill="#595959" transform="rotate(-90 215.31 830.00)">R 2012-5</text>
<text class="s" x="229.84" y="830.00" font-size="10.6" text-anchor="end" fill="#595959" transform="rotate(-90 229.84 830.00)">R 2012-8</text>
<text class="s" x="244.36" y="830.00" font-size="10.6" text-anchor="end" fill="#595959" transform="rotate(-90 244.36 830.00)">R 2013-8</text>
<text class="s" x="258.89" y="830.00" font-size="10.6" text-anchor="end" fill="#595959" transform="rotate(-90 258.89 830.00)">R 2015-3</text>
<text class="s" x="273.42" y="830.00" font-size="10.6" text-anchor="end" fill="#595959" transform="rotate(-90 273.42 830.00)">R 2015-9</text>
<text class="s" x="287.95" y="830.00" font-size="10.6" text-anchor="end" fill="#595959" transform="rotate(-90 287.95 830.00)">R 2016-6</text>
<text class="s" x="302.48" y="830.00" font-size="10.6" text-anchor="end" fill="#595959" transform="rotate(-90 302.48 830.00)">R 2016-9</text>
<text class="s" x="317.00" y="830.00" font-size="10.6" text-anchor="end" fill="#595959" transform="rotate(-90 317.00 830.00)">R 2017-7</text>
<text class="s" x="331.53" y="830.00" font-size="10.6" text-anchor="end" fill="#595959" transform="rotate(-90 331.53 830.00)">P 2011-7</text>
<text class="s" x="346.06" y="830.00" font-size="10.6" text-anchor="end" fill="#595959" transform="rotate(-90 346.06 830.00)">P 2015-3</text>
<text class="s" x="360.59" y="830.00" font-size="10.6" text-anchor="end" fill="#595959" transform="rotate(-90 360.59 830.00)">P 2015-9</text>
<text class="s" x="375.12" y="830.00" font-size="10.6" text-anchor="end" fill="#595959" transform="rotate(-90 375.12 830.00)">P 2016-5</text>
<text class="s" x="389.64" y="830.00" font-size="10.6" text-anchor="end" fill="#595959" transform="rotate(-90 389.64 830.00)">P 2016-9</text>
<text class="s" x="404.17" y="830.00" font-size="10.6" text-anchor="end" fill="#595959" transform="rotate(-90 404.17 830.00)">P 2017-6</text>
<text class="s" x="418.70" y="830.00" font-size="10.6" text-anchor="end" fill="#595959" transform="rotate(-90 418.70 830.00)">P 2018-9</text>
<text class="s" x="433.23" y="830.00" font-size="10.6" text-anchor="end" fill="#595959" transform="rotate(-90 433.23 830.00)">E 2011-2</text>
<text class="s" x="447.76" y="830.00" font-size="10.6" text-anchor="end" fill="#595959" transform="rotate(-90 447.76 830.00)">E 2011-7</text>
<text class="s" x="462.28" y="830.00" font-size="10.6" text-anchor="end" fill="#595959" transform="rotate(-90 462.28 830.00)">E 2011-9</text>
<text class="s" x="476.81" y="830.00" font-size="10.6" text-anchor="end" fill="#595959" transform="rotate(-90 476.81 830.00)">E 2012-7</text>
<text class="s" x="491.34" y="830.00" font-size="10.6" text-anchor="end" fill="#595959" transform="rotate(-90 491.34 830.00)">E 2013-8</text>
<text class="s" x="505.87" y="830.00" font-size="10.6" text-anchor="end" fill="#595959" transform="rotate(-90 505.87 830.00)">E 2015-7</text>
<text class="s" x="520.40" y="830.00" font-size="10.6" text-anchor="end" fill="#595959" transform="rotate(-90 520.40 830.00)">E 2016-6</text>
<text class="s" x="534.92" y="830.00" font-size="10.6" text-anchor="end" fill="#595959" transform="rotate(-90 534.92 830.00)">E 2017-6</text>
<text class="s" x="549.45" y="830.00" font-size="10.6" text-anchor="end" fill="#595959" transform="rotate(-90 549.45 830.00)">E 2018-9</text>
<text class="s" x="563.98" y="830.00" font-size="10.6" text-anchor="end" fill="#595959" transform="rotate(-90 563.98 830.00)">EC 2014-6</text>
<text class="s" x="578.51" y="830.00" font-size="10.6" text-anchor="end" fill="#595959" transform="rotate(-90 578.51 830.00)">EC 2015-9</text>
<text class="s" x="593.04" y="830.00" font-size="10.6" text-anchor="end" fill="#595959" transform="rotate(-90 593.04 830.00)">EC 2016-6</text>
<text class="s" x="607.56" y="830.00" font-size="10.6" text-anchor="end" fill="#595959" transform="rotate(-90 607.56 830.00)">EC 2017-6</text>
<text class="s" x="622.09" y="830.00" font-size="10.6" text-anchor="end" fill="#595959" transform="rotate(-90 622.09 830.00)">EC 2018-9</text>
<path d="M50.90 796.00L54.50 799.60L50.90 803.20L47.30 799.60Z" fill="#000" stroke="#14648f" stroke-width="1.4"/>
<path d="M65.43 827.30L69.03 830.90L65.43 834.50L61.83 830.90Z" fill="#000" stroke="#14648f" stroke-width="1.4"/>
<path d="M72.69 742.50L76.19 746.00L72.69 749.50L69.19 746.00Z" fill="#ff0000" stroke="#185f8c" stroke-width="1.3"/>
<path d="M79.96 765.40L83.46 768.90L79.96 772.40L76.46 768.90Z" fill="#ff0000" stroke="#185f8c" stroke-width="1.3"/>
<path d="M87.22 774.00L90.72 777.50L87.22 781.00L83.72 777.50Z" fill="#ff0000" stroke="#185f8c" stroke-width="1.3"/>
<path d="M94.48 743.80L97.98 747.30L94.48 750.80L90.98 747.30Z" fill="#ff0000" stroke="#185f8c" stroke-width="1.3"/>
<path d="M109.01 817.90L112.61 821.50L109.01 825.10L105.41 821.50Z" fill="#000" stroke="#14648f" stroke-width="1.4"/>
<path d="M116.28 770.30L119.78 773.80L116.28 777.30L112.78 773.80Z" fill="#ff0000" stroke="#185f8c" stroke-width="1.3"/>
<path d="M123.54 763.10L127.04 766.60L123.54 770.10L120.04 766.60Z" fill="#ff0000" stroke="#185f8c" stroke-width="1.3"/>
<path d="M130.80 747.70L134.30 751.20L130.80 754.70L127.30 751.20Z" fill="#ff0000" stroke="#185f8c" stroke-width="1.3"/>
<path d="M138.07 764.10L141.57 767.60L138.07 771.10L134.57 767.60Z" fill="#ff0000" stroke="#185f8c" stroke-width="1.3"/>
<path d="M145.33 771.60L148.83 775.10L145.33 778.60L141.83 775.10Z" fill="#ff0000" stroke="#185f8c" stroke-width="1.3"/>
<path d="M152.60 770.30L156.10 773.80L152.60 777.30L149.10 773.80Z" fill="#ff0000" stroke="#185f8c" stroke-width="1.3"/>
<path d="M159.86 816.10L163.46 819.70L159.86 823.30L156.26 819.70Z" fill="#000" stroke="#14648f" stroke-width="1.4"/>
<path d="M167.12 811.70L170.72 815.30L167.12 818.90L163.52 815.30Z" fill="#000" stroke="#14648f" stroke-width="1.4"/>
<path d="M174.39 788.80L177.99 792.40L174.39 796.00L170.79 792.40Z" fill="#000" stroke="#14648f" stroke-width="1.4"/>
<path d="M181.65 783.60L185.25 787.20L181.65 790.80L178.05 787.20Z" fill="#000" stroke="#14648f" stroke-width="1.4"/>
<path d="M188.92 761.10L192.42 764.60L188.92 768.10L185.42 764.60Z" fill="#ff0000" stroke="#185f8c" stroke-width="1.3"/>
<path d="M196.18 769.30L199.68 772.80L196.18 776.30L192.68 772.80Z" fill="#ff0000" stroke="#185f8c" stroke-width="1.3"/>
<path d="M203.44 748.80L206.94 752.30L203.44 755.80L199.94 752.30Z" fill="#ff0000" stroke="#185f8c" stroke-width="1.3"/>
<path d="M210.71 766.60L214.21 770.10L210.71 773.60L207.21 770.10Z" fill="#ff0000" stroke="#185f8c" stroke-width="1.3"/>
<path d="M217.97 753.70L221.47 757.20L217.97 760.70L214.47 757.20Z" fill="#ff0000" stroke="#185f8c" stroke-width="1.3"/>
<path d="M225.24 769.30L228.74 772.80L225.24 776.30L221.74 772.80Z" fill="#ff0000" stroke="#185f8c" stroke-width="1.3"/>
<path d="M232.50 764.60L236.00 768.10L232.50 771.60L229.00 768.10Z" fill="#ff0000" stroke="#185f8c" stroke-width="1.3"/>
<path d="M239.76 746.30L243.26 749.80L239.76 753.30L236.26 749.80Z" fill="#ff0000" stroke="#185f8c" stroke-width="1.3"/>
<path d="M247.03 781.90L250.63 785.50L247.03 789.10L243.43 785.50Z" fill="#000" stroke="#14648f" stroke-width="1.4"/>
<path d="M254.29 779.40L257.89 783.00L254.29 786.60L250.69 783.00Z" fill="#000" stroke="#14648f" stroke-width="1.4"/>
<path d="M261.56 772.10L265.06 775.60L261.56 779.10L258.06 775.60Z" fill="#ff0000" stroke="#185f8c" stroke-width="1.3"/>
<path d="M268.82 778.70L272.42 782.30L268.82 785.90L265.22 782.30Z" fill="#000" stroke="#14648f" stroke-width="1.4"/>
<path d="M276.08 790.10L279.68 793.70L276.08 797.30L272.48 793.70Z" fill="#000" stroke="#14648f" stroke-width="1.4"/>
<path d="M283.35 760.60L286.85 764.10L283.35 767.60L279.85 764.10Z" fill="#ff0000" stroke="#185f8c" stroke-width="1.3"/>
<path d="M290.61 780.40L294.21 784.00L290.61 787.60L287.01 784.00Z" fill="#000" stroke="#14648f" stroke-width="1.4"/>
<path d="M297.88 823.60L301.48 827.20L297.88 830.80L294.28 827.20Z" fill="#000" stroke="#14648f" stroke-width="1.4"/>
<path d="M305.14 776.20L308.74 779.80L305.14 783.40L301.54 779.80Z" fill="#000" stroke="#14648f" stroke-width="1.4"/>
<path d="M312.40 777.90L316.00 781.50L312.40 785.10L308.80 781.50Z" fill="#000" stroke="#14648f" stroke-width="1.4"/>
<path d="M319.67 773.80L323.17 777.30L319.67 780.80L316.17 777.30Z" fill="#ff0000" stroke="#185f8c" stroke-width="1.3"/>
<path d="M326.93 795.30L330.53 798.90L326.93 802.50L323.33 798.90Z" fill="#000" stroke="#14648f" stroke-width="1.4"/>
<path d="M334.20 765.10L337.70 768.60L334.20 772.10L330.70 768.60Z" fill="#ff0000" stroke="#185f8c" stroke-width="1.3"/>
<path d="M341.46 748.20L344.96 751.70L341.46 755.20L337.96 751.70Z" fill="#ff0000" stroke="#185f8c" stroke-width="1.3"/>
<path d="M348.72 781.90L352.32 785.50L348.72 789.10L345.12 785.50Z" fill="#000" stroke="#14648f" stroke-width="1.4"/>
<path d="M355.99 788.80L359.59 792.40L355.99 796.00L352.39 792.40Z" fill="#000" stroke="#14648f" stroke-width="1.4"/>
<path d="M363.25 764.10L366.75 767.60L363.25 771.10L359.75 767.60Z" fill="#ff0000" stroke="#185f8c" stroke-width="1.3"/>
<path d="M370.52 787.80L374.12 791.40L370.52 795.00L366.92 791.40Z" fill="#000" stroke="#14648f" stroke-width="1.4"/>
<path d="M377.78 773.80L381.28 777.30L377.78 780.80L374.28 777.30Z" fill="#ff0000" stroke="#185f8c" stroke-width="1.3"/>
<path d="M385.04 790.30L388.64 793.90L385.04 797.50L381.44 793.90Z" fill="#000" stroke="#14648f" stroke-width="1.4"/>
<path d="M392.31 796.00L395.91 799.60L392.31 803.20L388.71 799.60Z" fill="#000" stroke="#14648f" stroke-width="1.4"/>
<path d="M399.57 785.40L403.17 789.00L399.57 792.60L395.97 789.00Z" fill="#000" stroke="#14648f" stroke-width="1.4"/>
<path d="M406.84 779.90L410.44 783.50L406.84 787.10L403.24 783.50Z" fill="#000" stroke="#14648f" stroke-width="1.4"/>
<path d="M414.10 792.10L417.70 795.70L414.10 799.30L410.50 795.70Z" fill="#000" stroke="#14648f" stroke-width="1.4"/>
<path d="M421.36 828.80L424.96 832.40L421.36 836.00L417.76 832.40Z" fill="#000" stroke="#14648f" stroke-width="1.4"/>
<path d="M428.63 823.80L432.23 827.40L428.63 831.00L425.03 827.40Z" fill="#000" stroke="#14648f" stroke-width="1.4"/>
<path d="M435.89 816.60L439.49 820.20L435.89 823.80L432.29 820.20Z" fill="#000" stroke="#14648f" stroke-width="1.4"/>
<path d="M443.16 803.50L446.76 807.10L443.16 810.70L439.56 807.10Z" fill="#000" stroke="#14648f" stroke-width="1.4"/>
<path d="M450.42 770.60L453.92 774.10L450.42 777.60L446.92 774.10Z" fill="#ff0000" stroke="#185f8c" stroke-width="1.3"/>
<path d="M457.68 833.50L461.28 837.10L457.68 840.70L454.08 837.10Z" fill="#000" stroke="#14648f" stroke-width="1.4"/>
<path d="M464.95 774.80L468.45 778.30L464.95 781.80L461.45 778.30Z" fill="#ff0000" stroke="#185f8c" stroke-width="1.3"/>
<path d="M472.21 766.40L475.71 769.90L472.21 773.40L468.71 769.90Z" fill="#ff0000" stroke="#185f8c" stroke-width="1.3"/>
<path d="M479.48 771.60L482.98 775.10L479.48 778.60L475.98 775.10Z" fill="#ff0000" stroke="#185f8c" stroke-width="1.3"/>
<path d="M486.74 858.60L490.34 862.20L486.74 865.80L483.14 862.20Z" fill="#000" stroke="#14648f" stroke-width="1.4"/>
<path d="M494.00 770.80L497.50 774.30L494.00 777.80L490.50 774.30Z" fill="#ff0000" stroke="#185f8c" stroke-width="1.3"/>
<path d="M501.27 782.60L504.87 786.20L501.27 789.80L497.67 786.20Z" fill="#000" stroke="#14648f" stroke-width="1.4"/>
<path d="M508.53 764.60L512.03 768.10L508.53 771.60L505.03 768.10Z" fill="#ff0000" stroke="#185f8c" stroke-width="1.3"/>
<path d="M515.80 778.20L519.40 781.80L515.80 785.40L512.20 781.80Z" fill="#000" stroke="#14648f" stroke-width="1.4"/>
<path d="M523.06 807.90L526.66 811.50L523.06 815.10L519.46 811.50Z" fill="#000" stroke="#14648f" stroke-width="1.4"/>
<path d="M530.32 772.60L533.82 776.10L530.32 779.60L526.82 776.10Z" fill="#ff0000" stroke="#185f8c" stroke-width="1.3"/>
<path d="M537.59 777.40L541.19 781.00L537.59 784.60L533.99 781.00Z" fill="#000" stroke="#14648f" stroke-width="1.4"/>
<path d="M544.85 782.60L548.45 786.20L544.85 789.80L541.25 786.20Z" fill="#000" stroke="#14648f" stroke-width="1.4"/>
<path d="M552.12 738.80L555.62 742.30L552.12 745.80L548.62 742.30Z" fill="#ff0000" stroke="#185f8c" stroke-width="1.3"/>
<path d="M559.38 764.60L562.88 768.10L559.38 771.60L555.88 768.10Z" fill="#ff0000" stroke="#185f8c" stroke-width="1.3"/>
<path d="M566.64 796.80L570.24 800.40L566.64 804.00L563.04 800.40Z" fill="#000" stroke="#14648f" stroke-width="1.4"/>
<path d="M573.91 751.00L577.41 754.50L573.91 758.00L570.41 754.50Z" fill="#ff0000" stroke="#185f8c" stroke-width="1.3"/>
<path d="M581.17 773.10L584.67 776.60L581.17 780.10L577.67 776.60Z" fill="#ff0000" stroke="#185f8c" stroke-width="1.3"/>
<path d="M588.44 759.40L591.94 762.90L588.44 766.40L584.94 762.90Z" fill="#ff0000" stroke="#185f8c" stroke-width="1.3"/>
<path d="M595.70 783.90L599.30 787.50L595.70 791.10L592.10 787.50Z" fill="#000" stroke="#14648f" stroke-width="1.4"/>
<path d="M602.96 794.30L606.56 797.90L602.96 801.50L599.36 797.90Z" fill="#000" stroke="#14648f" stroke-width="1.4"/>
<path d="M610.23 798.00L613.83 801.60L610.23 805.20L606.63 801.60Z" fill="#000" stroke="#14648f" stroke-width="1.4"/>
<path d="M617.49 759.20L620.99 762.70L617.49 766.20L613.99 762.70Z" fill="#ff0000" stroke="#185f8c" stroke-width="1.3"/>
<text class="s" font-size="13.4" fill="#1272c4" transform="translate(627.2 663.0) scale(1 1.01)">Excellent</text>
<text class="s" font-size="13.4" fill="#0aa84e" transform="translate(627.2 691.2) scale(1 1.01)">Good</text>
<text class="s" font-size="13.4" fill="#1f6e9c" transform="translate(627.2 742.3) scale(1 1.01)">Fair</text>
<text class="s" font-size="13.4" fill="#ff0000" transform="translate(627.2 770.3) scale(1 1.01)">Poor</text>
<text class="s" font-size="13.4" fill="#000" transform="translate(627.2 813.8) scale(1 1.01)">Very</text>
<text class="s" font-size="13.4" fill="#000" transform="translate(627.2 829.8) scale(1 1.01)">poor</text>
<rect x="3.1" y="621.2" width="47.3" height="35.2" fill="#bfe3f5"/>
<text class="a" x="26.25" y="641.70" font-size="17" font-weight="bold" text-anchor="middle" fill="#000">(iii)</text>
<text class="s" x="8.70" y="930.40" font-size="13.33" fill="#000" xml:space="preserve">UL = Utah Lake, R =&#160; Rockport , P = Pineview, S = Scofield, E = Echo, EC = East Canyon</text>
<rect x="0" y="309.9" width="685" height="1.1" fill="#333"/>
<rect x="0" y="613.9" width="685" height="1.1" fill="#333"/>
<rect x="0" y="0" width="685" height="1" fill="#000"/>
<rect x="0" y="0" width="1.15" height="934" fill="#000"/>
<rect x="684" y="0" width="1" height="934" fill="#333"/>
<rect x="0" y="933" width="685" height="1" fill="#2e2e2e"/>
</svg>
</body></html>
